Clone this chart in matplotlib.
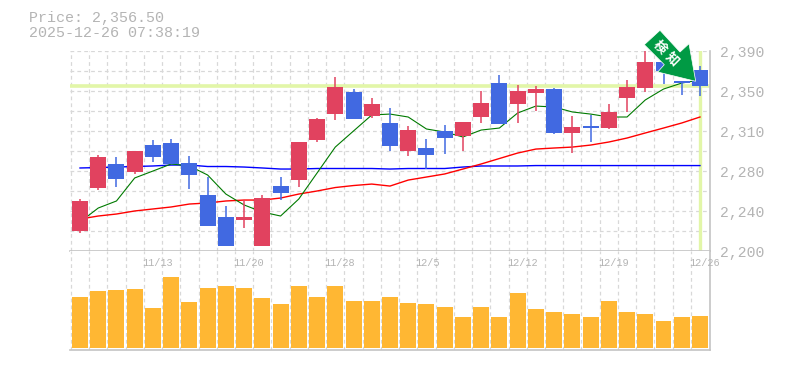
import matplotlib
matplotlib.use("Agg")
import matplotlib.pyplot as plt
from matplotlib.patches import Polygon

# -----------------------------
# Data
# -----------------------------

opens = [2218.7, 2259.6, 2282.5, 2274.9, 2300.5, 2302.4, 2283.4, 2253.0, 2232.0, 2229.2,
         2204.5, 2261.5, 2267.2, 2305.3, 2330.0, 2351.0, 2328.1, 2321.5, 2294.8, 2297.7,
         2313.9, 2309.1, 2327.2, 2359.5, 2339.6, 2350.0, 2353.8, 2312.0, 2318.6, 2316.7,
         2345.3, 2354.8, 2379.5, 2361.4, 2371.9]
closes = [2247.3, 2289.1, 2268.2, 2294.8, 2289.1, 2282.5, 2272.0, 2223.5, 2204.5, 2232.0,
          2250.1, 2254.9, 2303.4, 2325.3, 2355.7, 2325.3, 2339.6, 2299.6, 2314.8, 2291.0,
          2307.2, 2322.4, 2340.5, 2320.5, 2351.9, 2353.8, 2312.0, 2317.7, 2316.7, 2332.0,
          2355.7, 2379.5, 2371.0, 2359.5, 2356.5]
highs = [2249.2, 2291.0, 2289.1, 2294.8, 2305.3, 2306.3, 2290.1, 2270.1, 2242.5, 2248.2,
         2253.0, 2270.1, 2303.4, 2326.2, 2365.2, 2353.8, 2345.3, 2335.7, 2318.6, 2306.3,
         2319.6, 2322.4, 2351.9, 2367.1, 2357.6, 2356.7, 2354.8, 2328.1, 2329.1, 2339.6,
         2362.4, 2390.9, 2379.5, 2361.4, 2375.7]
lows = [2216.8, 2257.7, 2260.6, 2273.0, 2284.4, 2282.5, 2258.7, 2223.5, 2204.5, 2221.6,
        2204.5, 2248.2, 2260.6, 2303.4, 2324.3, 2325.3, 2326.2, 2294.8, 2290.1, 2277.7,
        2292.0, 2294.8, 2321.5, 2320.5, 2321.5, 2332.9, 2311.0, 2292.9, 2303.4, 2315.8,
        2332.0, 2351.0, 2358.6, 2348.1, 2347.2]

ma_short = [2227.3, 2240.6, 2247.3, 2269.2, 2275.8, 2282.5, 2280.6, 2272.0, 2253.9, 2243.5,
            2236.8, 2233.0, 2249.2, 2273.9, 2298.6, 2313.9, 2329.1, 2330.0, 2327.2, 2315.8,
            2312.9, 2308.2, 2314.8, 2316.7, 2331.0, 2337.6, 2336.7, 2332.0, 2330.0, 2327.2,
            2327.2, 2343.4, 2353.8, 2359.5, 2362.4]
ma_mid = [2230.1, 2233.0, 2234.9, 2237.8, 2239.7, 2241.6, 2244.4, 2245.4, 2247.3, 2248.2,
          2248.2, 2250.1, 2253.9, 2256.8, 2260.1, 2262.0, 2263.4, 2261.5, 2267.2, 2270.1,
          2273.0, 2277.7, 2282.5, 2287.7, 2292.9, 2296.7, 2297.7, 2298.6, 2300.5, 2303.4,
          2307.2, 2312.0, 2316.7, 2321.5, 2327.2]
ma_long = [2278.7, 2279.1, 2279.6, 2280.1, 2280.6, 2281.5, 2281.5, 2280.1, 2280.1, 2279.6,
           2278.7, 2277.7, 2277.7, 2278.2, 2278.2, 2278.2, 2278.2, 2277.7, 2278.2, 2278.2,
           2278.2, 2279.6, 2280.6, 2280.6, 2280.6, 2281.0, 2281.0, 2281.0, 2281.0, 2281.0,
           2281.0, 2281.0, 2281.0, 2281.0, 2281.0]

volumes = [51, 57, 58, 59, 40, 71, 46, 60, 62, 60, 50, 44, 62, 51, 62, 47, 47, 51,
           45, 44, 41, 31, 41, 31, 55, 39, 36, 34, 31, 47, 36, 34, 27, 31, 32]

price_ticks = [2200, 2238, 2276, 2314, 2352, 2390]
price_labels = ["2,200", "2,240", "2,280", "2,310", "2,350", "2,390"]
date_ticks = [4, 9, 14, 19, 24, 29, 34]
date_labels = ["11/13", "11/20", "11/28", "12/5", "12/12", "12/19", "12/26"]
last_price = 2356.5

# -----------------------------
# Style
# -----------------------------

W, H = 785, 370
GRAY = "#b4b4b4"
GRID = "#d8d8d8"
RED = "#e1425f"
BLUE = "#4169e1"
ORANGE = "#ffb733"
LIME = "#e2f6a8"
MONO = "Liberation Mono"

fig = plt.figure(figsize=(W / 100, H / 100), dpi=100)


def panel(left, top, right, bottom):
    return fig.add_axes([left / W, 1 - bottom / H, (right - left) / W, (bottom - top) / H])


xs = list(range(len(closes)))
x_lim = (-0.548, 34.55)

ax = panel(70, 51, 710, 250.7)
vol = panel(70, 250.7, 710, 350)

for a in (ax, vol):
    a.set_xlim(x_lim)
    a.set_xticks([x + 0.5 for x in xs[:-1]] + [-0.5])
    a.tick_params(length=0, labelbottom=False, labelleft=False)
    a.grid(axis="x", color=GRID, lw=0.9, ls=(0, (3, 2.5)))
    a.set_axisbelow(True)
    for s in a.spines.values():
        s.set_visible(False)
    a.spines["right"].set_visible(True)
    a.spines["right"].set_color("#c4c4c4")
    a.spines["right"].set_linewidth(1.2)
    a.spines["bottom"].set_visible(True)
    a.spines["bottom"].set_color("#c4c4c4")
    a.spines["bottom"].set_linewidth(1.2)

# -----------------------------
# Price panel
# -----------------------------

ax.set_ylim(2200, 2390)
ax.set_yticks([2390 - 19 * k * 0.9999 for k in range(11)])
ax.grid(axis="y", color=GRID, lw=0.9, ls=(0, (3, 2.5)))

ax.axhline(last_price, color=LIME, lw=2.6, zorder=1)
ax.axvline(xs[-1], color=LIME, lw=2.4, zorder=1)

ax.plot(xs, ma_long, color="#0000ff", lw=1.0, zorder=2)
ax.plot(xs, ma_mid, color="#ff0000", lw=1.0, zorder=2)
ax.plot(xs, ma_short, color="#007a00", lw=0.8, zorder=2)

colors = [RED if c > o else BLUE for o, c in zip(opens, closes)]
ax.vlines(xs, lows, highs, colors=colors, lw=1.1, zorder=3)
ax.bar(xs,
       [abs(c - o) for o, c in zip(opens, closes)],
       bottom=[min(o, c) for o, c in zip(opens, closes)],
       width=0.877, color=colors, zorder=4)

for v, lab in zip(price_ticks, price_labels):
    ax.annotate(lab, (1, v), xycoords=ax.get_yaxis_transform(), xytext=(7.2, -1.4),
                textcoords="offset points", va="center", ha="left",
                fontsize=10.6, family=MONO, color=GRAY, annotation_clip=False)

# -----------------------------
# Volume panel
# -----------------------------

vol.set_ylim(-2, 97.3)
vol.set_yticks([])
vol.bar(xs, volumes, width=0.877, color=ORANGE, zorder=3)

for i, lab in zip(date_ticks, date_labels):
    vol.text(i - 0.59, 85.5, lab, ha="left", va="center", fontsize=7.4,
             family=MONO, color=GRAY, clip_on=False, zorder=5)

# -----------------------------
# Header text and signal arrow
# -----------------------------

over = fig.add_axes([0, 0, 1, 1], facecolor="none")
over.set_xlim(0, W)
over.set_ylim(H, 0)
over.axis("off")

over.text(29, 18, "Price: 2,356.50", fontsize=10.8, family=MONO, color=GRAY, va="center")
over.text(29, 33, "2025-12-26 07:38:19", fontsize=10.8, family=MONO, color=GRAY, va="center")

arrow = [(660, 30.3), (644.3, 44.7), (664.3, 64.7), (657.7, 72), (695.7, 81.3),
         (689, 43.7), (680, 52)]
over.add_patch(Polygon(arrow, closed=True, facecolor="#009a44", edgecolor="white", lw=0.5, zorder=6))
for cx, cy, ch in [(660, 47, "検"), (672, 58.5, "知")]:
    over.text(cx, cy, ch, rotation=-45, rotation_mode="anchor", ha="center", va="center",
              fontsize=9.5, weight="bold", color="white", family=["Noto Sans CJK JP", "DejaVu Sans"], zorder=7)

fig.savefig("out.png", dpi=100)
plt.close(fig)
